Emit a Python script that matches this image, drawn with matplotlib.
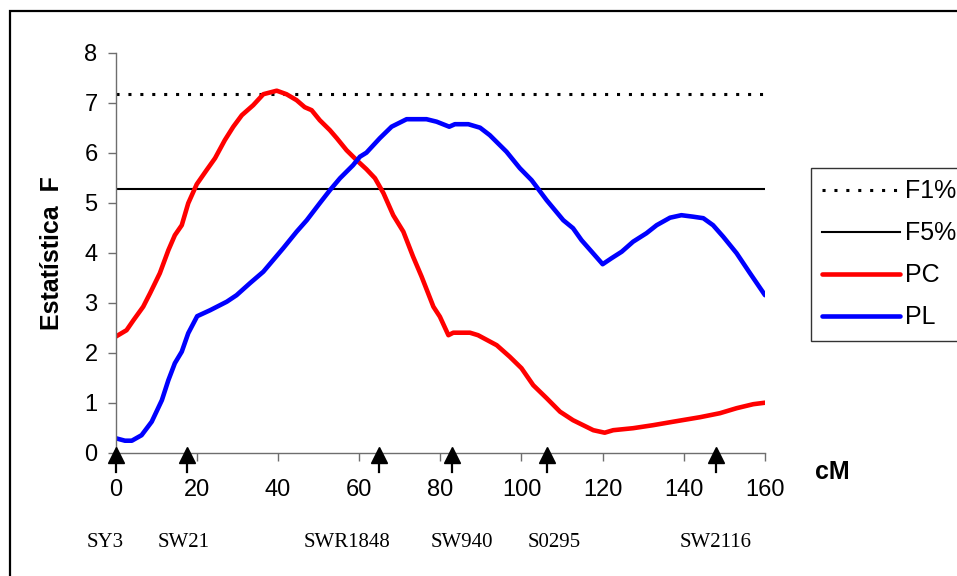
import matplotlib
matplotlib.use("Agg")
import matplotlib.pyplot as plt
from matplotlib.patches import Rectangle

plt.rcParams['font.family'] = ['Liberation Sans', 'DejaVu Sans']

# position along the chromosome (cM) and F statistic for each trait
pc_cm = [0, 2.7, 4.4, 6.8, 8.5, 10.9, 13.0, 14.6, 16.3, 17.9, 20.0, 22.4, 24.5,
         26.9, 29.0, 31.1, 33.9, 36.4, 39.7, 42.1, 44.6, 46.6, 48.3, 50.3, 52.8,
         54.5, 56.9, 59.4, 61.8, 63.9, 66.0, 68.4, 70.9, 73.3, 75.4, 78.3, 79.9,
         82.0, 83.2, 87.3, 89.3, 93.9, 97.1, 100.0, 102.9, 106.2, 109.5, 112.7,
         117.7, 120.5, 122.6, 127.5, 132.4, 137.4, 144.0, 148.9, 153.0, 157.1, 160.0]
pc_f = [2.32, 2.45, 2.65, 2.92, 3.19, 3.59, 4.05, 4.35, 4.55, 4.99, 5.37, 5.65, 5.89,
        6.25, 6.52, 6.75, 6.95, 7.17, 7.24, 7.17, 7.05, 6.91, 6.85, 6.65, 6.45,
        6.29, 6.05, 5.85, 5.67, 5.49, 5.19, 4.75, 4.42, 3.92, 3.52, 2.92, 2.72,
        2.35, 2.40, 2.40, 2.35, 2.15, 1.92, 1.69, 1.35, 1.09, 0.82, 0.65,
        0.45, 0.40, 0.45, 0.49, 0.55, 0.62, 0.71, 0.79, 0.89, 0.97, 1.00]

pl_cm = [0, 2.3, 4.0, 6.4, 8.9, 11.4, 13.0, 14.6, 16.3, 17.9, 20.1, 23.3, 27.4,
         29.8, 33.1, 36.4, 38.8, 41.3, 44.6, 47.1, 50.3, 52.8, 55.3, 58.5, 60.2,
         61.8, 65.1, 68.0, 71.7, 76.6, 79.1, 82.2, 83.6, 86.9, 89.8, 92.2, 96.3,
         99.6, 102.5, 106.2, 110.3, 112.7, 114.8, 117.3, 120.0, 122.2, 124.7,
         127.5, 130.8, 133.3, 136.6, 139.4, 142.3, 144.8, 147.2, 149.7, 153.0,
         156.3, 160.0]
pl_f = [0.29, 0.24, 0.24, 0.35, 0.62, 1.05, 1.45, 1.79, 2.02, 2.39, 2.73, 2.85, 3.02,
        3.15, 3.39, 3.62, 3.85, 4.09, 4.42, 4.65, 4.99, 5.25, 5.49, 5.75, 5.92,
        6.00, 6.29, 6.52, 6.67, 6.67, 6.62, 6.52, 6.57, 6.57, 6.50, 6.35, 6.02,
        5.69, 5.45, 5.05, 4.65, 4.49, 4.25, 4.02, 3.77, 3.89, 4.02,
        4.22, 4.39, 4.55, 4.70, 4.75, 4.72, 4.69, 4.55, 4.32, 3.99,
        3.59, 3.15]

# significance thresholds
f1_level = 7.17
f5_level = 5.27

# microsatellite markers
marker_names = ["SY3", "SW21", "SWR1848", "SW940", "S0295", "SW2116"]
marker_cm = [0, 17.7, 65.0, 82.8, 106.4, 147.9]
label_shift = [-2.6, -0.9, -8.0, 2.5, 1.6, 0.0]  # text offset from arrow (cM)

xticks = [0, 20, 40, 60, 80, 100, 120, 140, 160]
yticks = [0, 1, 2, 3, 4, 5, 6, 7, 8]

fig = plt.figure(figsize=(9.57, 5.76), dpi=100)
ax = fig.add_axes([115.6 / 957, 1 - 452.7 / 576, 649.4 / 957, 400 / 576])

ax.plot([0, 160], [f1_level, f1_level], color='black', lw=2.2,
        linestyle=(0, (1, 2.9)), label='F1%')
ax.plot([0, 160], [f5_level, f5_level], color='black', lw=1.5, label='F5%')
ax.plot(pc_cm, pc_f, color='#ff0000', lw=3.3, label='PC', solid_capstyle='round')
ax.plot(pl_cm, pl_f, color='#0000ff', lw=3.3, label='PL', solid_capstyle='round')

ax.set_xlim(0, 160)
ax.set_ylim(0, 8)
ax.set_xticks(xticks)
ax.set_yticks(yticks)
ax.tick_params(axis='both', colors='#6e6e6e', labelcolor='black', labelsize=17,
               length=6, width=1.0)
ax.tick_params(axis='x', pad=13)
ax.tick_params(axis='y', pad=7)
for side in ['top', 'right']:
    ax.spines[side].set_visible(False)
for side in ['left', 'bottom']:
    ax.spines[side].set_color('#6e6e6e')
    ax.spines[side].set_linewidth(1.0)

# marker arrows and names
for name, x, dx in zip(marker_names, marker_cm, label_shift):
    ax.plot([x], [-0.04], marker='^', markersize=11, color='black', clip_on=False,
            zorder=5)
    ax.plot([x, x], [-0.19, -0.39], color='black', lw=1.6, clip_on=False, zorder=5)
    ax.text(x + dx, -1.79, name, ha='center', va='center', fontsize=15,
            family='Liberation Serif')

ax.text(-15.7, 4.0, "Estatística  F", rotation=90, ha='center', va='center',
        fontsize=18, fontweight='bold')
ax.text(172.3, -0.39, "cM", ha='left', va='center', fontsize=18, fontweight='bold',
        clip_on=False)

leg = fig.legend(loc='upper left', bbox_to_anchor=(811 / 957, 1 - 168 / 576),
                 borderaxespad=0, fontsize=18, handlelength=3.1, handletextpad=0.2,
                 labelspacing=0.72, fancybox=False, borderpad=0.45)
leg.get_frame().set_edgecolor('black')
leg.get_frame().set_linewidth(1.0)

# outer frame of the chart area
fig.patches.append(Rectangle((10 / 957, -0.05), 1.1, 1 - 11 / 576 + 0.05,
                             transform=fig.transFigure, fill=False,
                             edgecolor='black', lw=1.6))

fig.savefig("out.png", dpi=100)
